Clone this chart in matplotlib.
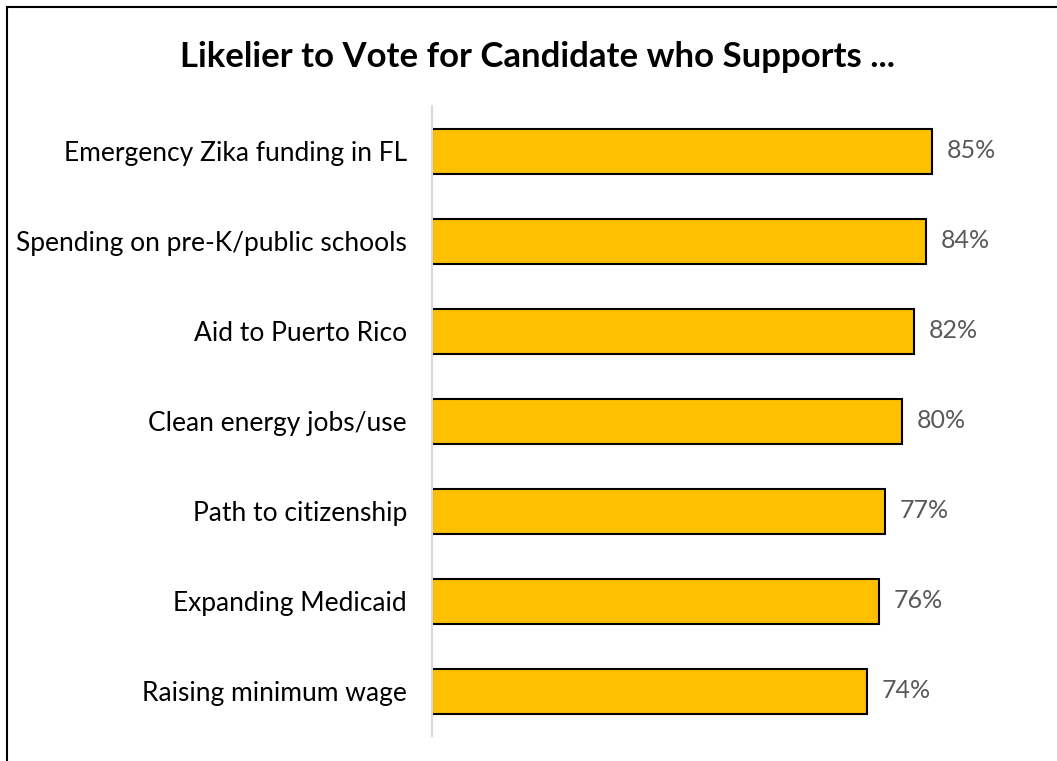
import matplotlib.pyplot as plt
from matplotlib.lines import Line2D

categories = ['Emergency Zika funding in FL', 'Spending on pre-K/public schools',
              'Aid to Puerto Rico', 'Clean energy jobs/use', 'Path to citizenship',
              'Expanding Medicaid', 'Raising minimum wage']
values = [85, 84, 82, 80, 77, 76, 74]

plt.rcParams['font.family'] = ['Lato', 'DejaVu Sans']

W, H = 1057, 761
fig = plt.figure(figsize=(W / 100, H / 100), dpi=100)
ax = fig.add_axes([432 / W, 25 / H, 588 / W, 630 / H])

ypos = list(range(len(categories)))
ax.barh(ypos, values, height=0.5, color='#FFC000', edgecolor='black', linewidth=1.5)
ax.set_ylim(len(categories) - 0.5, -0.5)
ax.set_xlim(0, 100)

for y, v in zip(ypos, values):
    ax.text(v + 2.5, y, f'{v}%', va='center', ha='left', fontsize=18, color='#595959')

ax.set_yticks(ypos)
ax.set_yticklabels(categories, fontsize=19, color='black')
ax.tick_params(axis='y', length=0, pad=18)
ax.set_xticks([])
for s in ['top', 'right', 'bottom']:
    ax.spines[s].set_visible(False)
ax.spines['left'].set_color('#d9d9d9')
ax.spines['left'].set_linewidth(1.5)

fig.text(538 / W, 1 - 57 / H, 'Likelier to Vote for Candidate who Supports ...',
         ha='center', va='center', fontsize=25, fontweight='bold')

# frame around the chart, open to the right and bottom edges
fig.add_artist(Line2D([7 / W, 7 / W], [0, 1 - 7 / H], color='black', lw=1.5,
                      transform=fig.transFigure))
fig.add_artist(Line2D([7 / W, 1], [1 - 7 / H, 1 - 7 / H], color='black', lw=1.5,
                      transform=fig.transFigure))

fig.savefig('out.png', dpi=100)
